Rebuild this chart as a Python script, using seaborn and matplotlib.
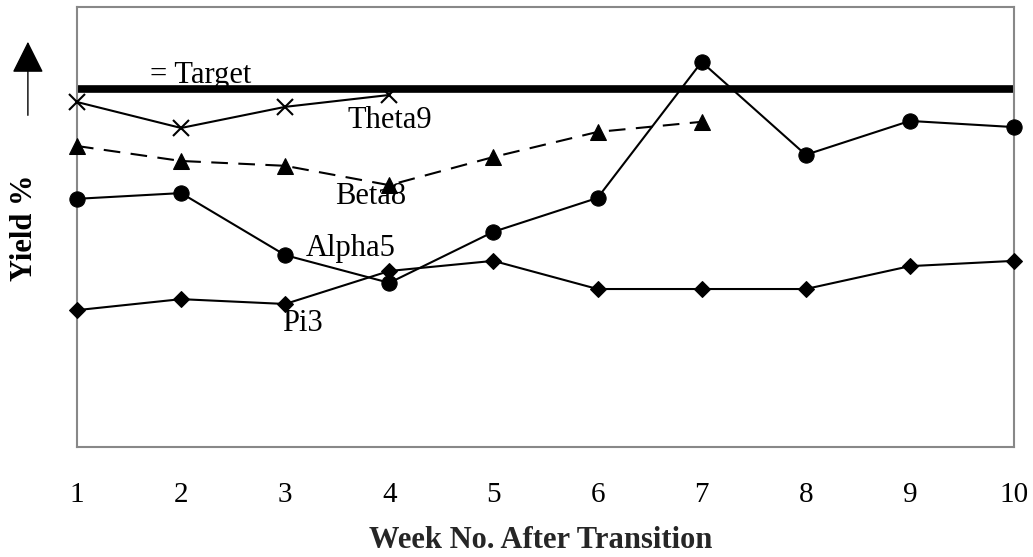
import matplotlib
matplotlib.use("Agg")
import matplotlib.pyplot as plt
import seaborn as sns
import pandas as pd

weeks = [1, 2, 3, 4, 5, 6, 7, 8, 9, 10]
target = 81.4
theta9 = [78.4, 72.5, 77.3, 80.0]
beta8 = [68.4, 65.0, 63.9, 59.5, 65.9, 71.6, 73.9]
alpha5 = [56.4, 57.7, 43.6, 37.3, 48.9, 56.6, 87.5, 66.4, 74.1, 72.7]
pi3 = [31.1, 33.6, 32.5, 40.0, 42.3, 35.9, 35.9, 35.9, 41.1, 42.3]

sns.set_style("white")
plt.rcParams['font.family'] = ['Liberation Serif', 'DejaVu Serif']
plt.rcParams['text.color'] = 'black'
plt.rcParams['xtick.color'] = 'black'

fig = plt.figure(figsize=(10.33, 5.57), dpi=100)
ax = fig.add_axes([0.0745, 0.1975, 0.9071, 0.79])

ax.axhline(target, color="black", lw=5.5, zorder=2)

common = dict(ax=ax, color="black", lw=1.5, markeredgecolor="black",
              markerfacecolor="black", clip_on=False, zorder=3)
sns.lineplot(x=weeks[:len(theta9)], y=theta9, marker="x", markersize=11,
             markeredgewidth=1.5, **common)
sns.lineplot(x=weeks[:len(beta8)], y=beta8, marker="^", markersize=11, **common)
ax.lines[-1].set_dashes([8, 5])
sns.lineplot(x=weeks, y=alpha5, marker="o", markersize=11, **common)
sns.lineplot(x=weeks, y=pi3, marker="D", markersize=8, **common)

ax.set_xlim(1, 10)
ax.set_ylim(0, 100)
ax.set_xticks(weeks)
ax.set_xticklabels([str(w) for w in weeks], fontsize=21)
ax.set_yticks([])
ax.tick_params(axis="x", direction="inout", length=12, width=1.2,
               color="#555555", pad=19)
for s in ax.spines.values():
    s.set_color("#888888")
    s.set_linewidth(1.5)

fs = 22
ax.text(1.7, 84.5, "= Target", fontsize=fs, va="center", ha="left")
ax.text(3.6, 74.3, "Theta9", fontsize=fs, va="center", ha="left")
ax.text(3.48, 57.0, "Beta8", fontsize=fs, va="center", ha="left")
ax.text(3.2, 45.0, "Alpha5", fontsize=fs, va="center", ha="left")
ax.text(2.97, 28.0, "Pi3", fontsize=fs, va="center", ha="left")

ax.set_xlabel("Week No. After Transition", fontsize=22, fontweight="bold")
ax.xaxis.set_label_coords(0.495, -0.212)
ax.xaxis.label.set_va("center")
fig.text(0.024, 0.591, "Yield %", rotation=90, fontsize=22, fontweight="bold",
         ha="center", va="center")
fig.patches.append(matplotlib.patches.FancyArrowPatch(
    (0.027, 0.788), (0.027, 0.93), transform=fig.transFigure,
    arrowstyle="-|>,head_length=1.0,head_width=0.5", mutation_scale=20,
    color="black", lw=1))

fig.savefig("out.png", dpi=100)
